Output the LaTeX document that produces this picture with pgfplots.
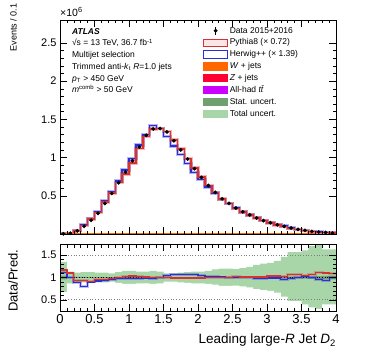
\documentclass[border=0pt]{standalone}
\usepackage{fontspec}
\setmainfont{Liberation Sans}
\usepackage{pgfplots}
\usepackage{pgfplotstable}
\pgfplotsset{compat=1.18}
\definecolor{pyred}{RGB}{215,50,50}
\definecolor{hwblue}{RGB}{45,45,215}
\definecolor{wjets}{RGB}{255,102,0}
\definecolor{zjets}{RGB}{255,0,51}
\definecolor{ttbar}{RGB}{204,0,255}
\definecolor{statg}{RGB}{112,160,112}
\definecolor{totg}{RGB}{168,214,168}

\pgfplotstableread{
c d
0.05 0.003
0.15 0.010
0.25 0.040
0.35 0.100
0.45 0.180
0.55 0.270
0.65 0.400
0.75 0.530
0.85 0.670
0.95 0.810
1.05 0.960
1.15 1.140
1.25 1.290
1.35 1.375
1.45 1.380
1.55 1.335
1.65 1.220
1.75 1.100
1.85 0.980
1.95 0.855
2.05 0.740
2.15 0.635
2.25 0.545
2.35 0.460
2.45 0.400
2.55 0.340
2.65 0.290
2.75 0.250
2.85 0.210
2.95 0.175
3.05 0.148
3.15 0.120
3.25 0.100
3.35 0.078
3.45 0.060
3.55 0.047
3.65 0.034
3.75 0.026
3.85 0.020
3.95 0.012
}\datatab

\pgfplotstableread{
e py hw w
0.0 0.0026 0.0027 0.000
0.1 0.0091 0.0100 0.001
0.2 0.043 0.045 0.002
0.3 0.1075 0.127 0.003
0.4 0.198 0.200 0.004
0.5 0.284 0.293 0.004
0.6 0.417 0.430 0.005
0.7 0.538 0.552 0.005
0.8 0.670 0.691 0.005
0.9 0.786 0.835 0.005
1.0 0.928 0.990 0.005
1.1 1.118 1.163 0.005
1.2 1.277 1.303 0.005
1.3 1.375 1.418 0.005
1.4 1.380 1.380 0.005
1.5 1.342 1.278 0.005
1.6 1.232 1.151 0.004
1.7 1.111 1.038 0.004
1.8 0.990 0.925 0.004
1.9 0.864 0.807 0.004
2.0 0.747 0.712 0.003
2.1 0.635 0.617 0.003
2.2 0.545 0.534 0.003
2.3 0.460 0.455 0.003
2.4 0.400 0.400 0.002
2.5 0.335 0.340 0.002
2.6 0.287 0.290 0.002
2.7 0.248 0.250 0.002
2.8 0.208 0.216 0.002
2.9 0.173 0.180 0.001
3.0 0.143 0.149 0.001
3.1 0.116 0.121 0.001
3.2 0.097 0.104 0.001
3.3 0.073 0.079 0.001
3.4 0.057 0.060 0.001
3.5 0.045 0.046 0.001
3.6 0.032 0.034 0.001
3.7 0.023 0.027 0.000
3.8 0.018 0.021 0.000
3.9 0.011 0.012 0.000
4.0 0.011 0.012 0.000
}\mctab

\pgfplotstableread{
e rpy rhw hi lo shi slo
0.0 1.17 1.12 1.35 0.67 1.04 0.96
0.1 1.10 1.00 1.13 0.87 1.015 0.985
0.2 0.93 0.89 1.11 0.90 1.012 0.988
0.3 0.93 0.79 1.12 0.89 1.012 0.988
0.4 0.91 0.90 1.12 0.88 1.01 0.99
0.5 0.95 0.92 1.11 0.89 1.01 0.99
0.6 0.96 0.93 1.11 0.89 1.01 0.99
0.7 0.985 0.96 1.09 0.91 1.01 0.99
0.8 1.00 0.97 1.12 0.88 1.01 0.99
0.9 1.03 0.97 1.15 0.86 1.01 0.99
1.0 1.035 0.97 1.15 0.86 1.01 0.99
1.1 1.02 0.98 1.13 0.87 1.01 0.99
1.2 1.01 0.99 1.13 0.87 1.01 0.99
1.3 1.00 0.97 1.15 0.86 1.01 0.99
1.4 1.00 1.00 1.13 0.87 1.01 0.99
1.5 0.995 1.045 1.09 0.91 1.01 0.99
1.6 0.99 1.06 1.09 0.91 1.01 0.99
1.7 0.99 1.06 1.11 0.89 1.01 0.99
1.8 0.99 1.06 1.12 0.88 1.01 0.99
1.9 0.99 1.06 1.13 0.87 1.01 0.99
2.0 0.99 1.04 1.13 0.87 1.01 0.99
2.1 1.00 1.03 1.15 0.86 1.01 0.99
2.2 1.00 1.02 1.18 0.84 1.01 0.99
2.3 1.00 1.01 1.20 0.81 1.01 0.99
2.4 1.00 1.00 1.20 0.81 1.01 0.99
2.5 1.015 1.00 1.19 0.82 1.012 0.988
2.6 1.01 1.00 1.21 0.80 1.012 0.988
2.7 1.01 1.00 1.24 0.78 1.012 0.988
2.8 1.01 0.97 1.28 0.74 1.014 0.986
2.9 1.01 0.97 1.31 0.72 1.015 0.985
3.0 1.035 0.99 1.33 0.70 1.016 0.984
3.1 1.035 0.99 1.37 0.66 1.018 0.982
3.2 1.03 0.96 1.46 0.57 1.02 0.98
3.3 1.07 0.985 1.57 0.47 1.02 0.98
3.4 1.06 1.00 1.57 0.47 1.022 0.978
3.5 1.04 1.02 1.61 0.40 1.025 0.975
3.6 1.075 1.00 1.70 0.33 1.028 0.972
3.7 1.12 0.96 1.74 0.30 1.03 0.97
3.8 1.10 0.94 1.63 0.40 1.035 0.965
3.9 1.09 1.00 1.63 0.40 1.04 0.96
4.0 1.09 1.00 1.63 0.40 1.04 0.96
}\ratiotab

\pgfplotsset{
  atlas/.style={
    scale only axis, width=276pt,
    xmin=0, xmax=4,
    tick align=inside,
    major tick length=7pt, minor tick length=3.5pt,
    minor x tick num=4, minor y tick num=4,
    every tick/.style={black, line width=0.5pt},
    axis line style={line width=0.6pt},
    /pgf/number format/assume math mode=true,
    axis on top,
    clip mode=individual,
  },
  legbox/.style 2 args={legend image code/.code={
    \draw[draw=#1, line width=1pt, fill=#2] (0pt,-3.6pt) rectangle (24pt,3.6pt);}},
}

\begin{document}
\begin{tikzpicture}
\path[use as bounding box] (0pt,0pt) rectangle (374pt,359pt);

% ---------------- main panel ----------------
\begin{axis}[atlas,
  at={(60pt,125pt)}, anchor=south west,
  height=214pt,
  ymin=0, ymax=2.8,
  ytick={0.5,1,1.5,2,2.5},
  xtick={0,0.5,...,4}, xticklabels={},
  yticklabel style={font=\fontsize{11}{11}\selectfont},
  ylabel={Events / 0.1},
  ylabel style={at={(rel axis cs:-0.156,0.965)}, anchor=south, rotate=0,
     font=\fontsize{9}{9}\selectfont, inner sep=0pt},
  legend cell align=left,
  legend style={draw=none, fill=none, at={(rel axis cs:0.518,0.978)}, anchor=north west,
     font=\fontsize{8.5}{10}\selectfont, row sep=0.2pt, inner sep=0pt,
     nodes={inner sep=1.6pt, text height=6.5pt, text depth=2pt}},
]
\addlegendimage{legend image code/.code={
   \draw[black, line width=0.6pt] (12pt,-4pt)--(12pt,4pt);
   \fill[black] (12pt,0pt) circle (1.7pt);}}
\addlegendentry{Data 2015+2016}
\addlegendimage{legbox={pyred}{pyred!12}}
\addlegendentry{Pythia8 (× 0.72)}
\addlegendimage{legbox={hwblue}{white}}
\addlegendentry{Herwig++ (× 1.39)}
\addlegendimage{legbox={wjets}{wjets}}
\addlegendentry{\textit{W} + jets}
\addlegendimage{legbox={zjets}{zjets}}
\addlegendentry{\textit{Z} + jets}
\addlegendimage{legbox={ttbar}{ttbar}}
\addlegendentry{All-had \textit{t\=t}}
\addlegendimage{legbox={statg}{statg}}
\addlegendentry{Stat. uncert.}
\addlegendimage{legbox={totg}{totg}}
\addlegendentry{Total uncert.}

\addplot[const plot mark left, hwblue, opacity=0.35, line width=3.4pt, forget plot] table[x=e,y=hw]{\mctab};
\addplot[const plot mark left, pyred, opacity=0.35, line width=3.4pt, forget plot] table[x=e,y=py]{\mctab};
\addplot[const plot mark left, hwblue, line width=1.4pt, forget plot] table[x=e,y=hw]{\mctab};
\addplot[const plot mark left, pyred, line width=1.4pt, forget plot] table[x=e,y=py]{\mctab};
\addplot[const plot mark left, wjets, line width=1pt, forget plot] table[x=e,y=w]{\mctab};
\addplot[only marks, mark=*, mark size=1.7pt, black, forget plot] table[x=c,y=d]{\datatab};

\node[anchor=south west, inner sep=0pt, font=\fontsize{10.5}{10.5}\selectfont]
  at (rel axis cs:0,1.014) {×10\textsuperscript{6}};
\node[anchor=north west, align=left, inner sep=0pt, font=\fontsize{8.5}{11.7}\selectfont]
  at (rel axis cs:0.043,0.962) {\textbf{\textit{ATLAS}}\\
  √s = 13 TeV, 36.7 fb\textsuperscript{-1}\\
  Multijet selection\\
  Trimmed anti-\textit{k}\textsubscript{t} \textit{R}=1.0 jets\\
  \textit{p}\textsubscript{T} > 450 GeV\\
  \textit{m}\textsuperscript{comb} > 50 GeV};
\end{axis}

% ---------------- ratio panel ----------------
\begin{axis}[atlas,
  at={(60pt,48pt)}, anchor=south west,
  height=67pt,
  ymin=0.25, ymax=1.75,
  ytick={0.5,1,1.5},
  xtick={0,0.5,...,4},
  yticklabel style={font=\fontsize{11}{11}\selectfont},
  xticklabel style={font=\fontsize{13}{13}\selectfont},
  ylabel={Data/Pred.},
  ylabel style={at={(rel axis cs:-0.152,0.45)}, anchor=south, font=\fontsize{13}{13}\selectfont, inner sep=0pt},
  xlabel={Leading large-\textit{R} Jet \textit{D}\textsubscript{2}},
  xlabel style={at={(rel axis cs:1,0)}, anchor=north east, yshift=-23pt, font=\fontsize{13.5}{13.5}\selectfont, inner sep=0pt},
]
\addplot[const plot mark left, fill=totg, draw=none, forget plot] table[x=e,y=hi]{\ratiotab} \closedcycle;
\addplot[const plot mark left, fill=statg, draw=none, forget plot] table[x=e,y=shi]{\ratiotab} \closedcycle;
\addplot[const plot mark left, fill=totg, draw=none, forget plot] table[x=e,y=slo]{\ratiotab} \closedcycle;
\addplot[const plot mark left, fill=white, draw=none, forget plot] table[x=e,y=lo]{\ratiotab} \closedcycle;

\addplot[gray, dotted, line width=0.7pt, forget plot] coordinates {(0,0.5) (4,0.5)};
\addplot[gray, dotted, line width=0.7pt, forget plot] coordinates {(0,1.5) (4,1.5)};
\addplot[black, dotted, line width=0.7pt, forget plot] coordinates {(0,1) (4,1)};

\addplot[const plot mark left, hwblue, opacity=0.3, line width=2.8pt, forget plot] table[x=e,y=rhw]{\ratiotab};
\addplot[const plot mark left, pyred, opacity=0.3, line width=2.8pt, forget plot] table[x=e,y=rpy]{\ratiotab};
\addplot[const plot mark left, hwblue, line width=1.2pt, forget plot] table[x=e,y=rhw]{\ratiotab};
\addplot[const plot mark left, pyred, line width=1.2pt, forget plot] table[x=e,y=rpy]{\ratiotab};
\end{axis}
\end{tikzpicture}
\end{document}
